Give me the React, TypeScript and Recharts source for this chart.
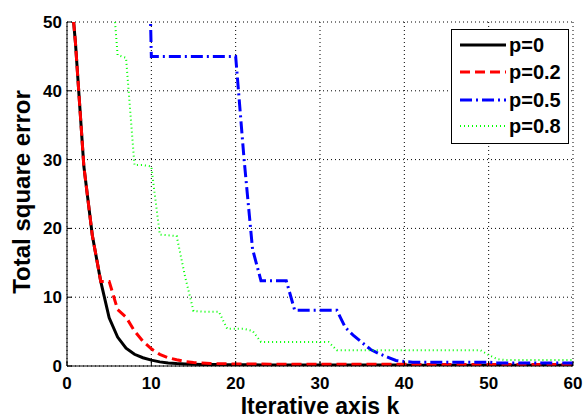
import { LineChart, Line, XAxis, YAxis, CartesianGrid } from "recharts";

const iterations = [
  0, 1, 2, 3, 4, 5, 6, 7, 8, 9, 10, 11, 12, 13, 14, 15, 16, 17, 18, 19, 20,
  21, 22, 23, 24, 25, 26, 27, 28, 29, 30, 31, 32, 33, 34, 35, 36, 37, 38, 39, 40,
  41, 42, 43, 44, 45, 46, 47, 48, 49, 50, 51, 52, 53, 54, 55, 56, 57, 58, 59, 60,
];

// p = 0
const errP0 = [
  61, 47, 29, 19, 12.3, 7, 4.2, 2.6, 1.7, 1.2, 0.85, 0.6, 0.45, 0.36, 0.3, 0.26,
  0.23, 0.21, 0.2, 0.19, 0.18, 0.17, 0.17, 0.16, 0.16, 0.15, 0.15, 0.15, 0.14,
  0.14, 0.14, 0.13, 0.13, 0.13, 0.13, 0.13, 0.13, 0.13, 0.13, 0.13, 0.13, 0.12,
  0.12, 0.12, 0.12, 0.12, 0.12, 0.12, 0.12, 0.12, 0.12, 0.11, 0.11, 0.11, 0.11,
  0.11, 0.11, 0.11, 0.11, 0.11, 0.11,
];

// p = 0.2
const errP02 = [
  61, 47, 29, 19, 12.3, 12.3, 8.2, 7.1, 5.1, 3.6, 2.5, 1.7, 1.2, 0.9, 0.65, 0.5,
  0.42, 0.36, 0.33, 0.31, 0.3, 0.29, 0.28, 0.28, 0.27, 0.27, 0.26, 0.26, 0.25,
  0.25, 0.25, 0.24, 0.24, 0.24, 0.24, 0.24, 0.24, 0.24, 0.24, 0.24, 0.24, 0.23,
  0.23, 0.23, 0.23, 0.23, 0.23, 0.23, 0.23, 0.23, 0.23, 0.22, 0.22, 0.22, 0.22,
  0.22, 0.22, 0.22, 0.22, 0.22, 0.22,
];

// p = 0.5
const errP05 = [
  null, null, null, null, null, null, null, null, null, 100, 45, 45, 45, 45, 45,
  45, 45, 45, 45, 45, 45, 30, 17, 12.4, 12.4, 12.4, 12.4, 8.1, 8.1, 8.1, 8.1, 8.1,
  8.1, 5.6, 4.4, 3.4, 2.4, 1.8, 1.3, 0.8, 0.65, 0.55, 0.55, 0.55, 0.55, 0.55,
  0.55, 0.55, 0.55, 0.55, 0.55, 0.45, 0.45, 0.45, 0.45, 0.45, 0.45, 0.45, 0.45,
  0.45, 0.45,
];

// p = 0.8
const errP08 = [
  null, null, null, null, null, 61, 45.2, 44.8, 29.2, 29.2, 29, 19.1, 19, 18.9,
  13, 8, 7.9, 7.9, 7.9, 5.4, 5.4, 5.4, 5.1, 3.5, 3.5, 3.5, 3.5, 3.5, 3.5, 3.5,
  3.5, 3.5, 2.3, 2.3, 2.3, 2.3, 2.3, 2.3, 2.3, 2.3, 2.3, 2.3, 2.3, 2.3, 2.3, 2.3,
  2.3, 2.3, 2.3, 2.3, 1.6, 1.0, 0.87, 0.87, 0.87, 0.87, 0.87, 0.87, 0.87, 0.87,
  0.87,
];

const xTicks = [0, 10, 20, 30, 40, 50, 60];
const yTicks = [0, 10, 20, 30, 40, 50];

const series = [
  { key: "p0", label: "p=0", color: "#000000", width: 3, dash: undefined },
  { key: "p02", label: "p=0.2", color: "#ff0000", width: 3, dash: "10 5" },
  { key: "p05", label: "p=0.5", color: "#0000ff", width: 3, dash: "12 4 2 4" },
  { key: "p08", label: "p=0.8", color: "#00ff00", width: 2, dash: "1 3" },
];

const data = iterations.map((k, i) => ({
  k,
  p0: errP0[i],
  p02: errP02[i],
  p05: errP05[i],
  p08: errP08[i],
}));

const font = '"Liberation Sans", Arial, Helvetica, sans-serif';
const tickStyle = { fill: "#000", fontSize: 17, fontWeight: "bold", fontFamily: font };

function YTitle(props: any) {
  const vb = props.viewBox;
  const x = vb.x + 30;
  const y = vb.y + vb.height / 2 - 2;
  return (
    <text
      x={x}
      y={y}
      transform={`rotate(-90 ${x} ${y})`}
      textAnchor="middle"
      fill="#000"
      fontSize={24}
      fontWeight="bold"
      fontFamily={font}
    >
      Total square error
    </text>
  );
}

function LegendBox() {
  const rows = [15, 42, 70, 96];
  return (
    <div
      style={{
        position: "absolute",
        left: 451,
        top: 29,
        width: 116,
        height: 113,
        border: "1px solid #000",
        background: "#fff",
      }}
    >
      <svg width={116} height={113}>
        {series.map((s, i) => (
          <g key={s.key}>
            <line
              x1={8}
              x2={54}
              y1={rows[i]}
              y2={rows[i]}
              stroke={s.color}
              strokeWidth={s.width}
              strokeDasharray={s.dash}
            />
            <text
              x={57}
              y={rows[i]}
              dominantBaseline="central"
              fontSize={20}
              fontWeight="bold"
              fontFamily={font}
              fill="#000"
            >
              {s.label}
            </text>
          </g>
        ))}
      </svg>
    </div>
  );
}

export default function App() {
  return (
    <div style={{ position: "absolute", left: 0, top: 0, width: 585, height: 419, background: "#fff" }}>
      <LineChart
        width={585}
        height={419}
        data={data}
        margin={{ top: 22, right: 12, bottom: 0, left: 0 }}
        style={{ fontFamily: font }}
      >
        <CartesianGrid stroke="#000" strokeDasharray="1 3" />
        <XAxis
          dataKey="k"
          type="number"
          domain={[0, 60]}
          ticks={xTicks}
          interval={0}
          height={53}
          tickSize={-5}
          tickMargin={16}
          tick={tickStyle}
          axisLine={{ stroke: "#000" }}
          tickLine={{ stroke: "#000" }}
          allowDataOverflow
          label={{
            value: "Iterative axis k",
            position: "insideBottom",
            offset: 5,
            fill: "#000",
            fontSize: 23,
            fontWeight: "bold",
            fontFamily: font,
          }}
        />
        <XAxis
          xAxisId="top"
          orientation="top"
          type="number"
          domain={[0, 60]}
          ticks={xTicks}
          height={0}
          tick={false}
          tickSize={-5}
          axisLine={{ stroke: "#000" }}
          tickLine={{ stroke: "#000" }}
          allowDataOverflow
        />
        <YAxis
          type="number"
          domain={[0, 50]}
          ticks={yTicks}
          interval={0}
          width={67}
          tickSize={-5}
          tickMargin={10}
          tick={tickStyle}
          axisLine={{ stroke: "#000" }}
          tickLine={{ stroke: "#000" }}
          allowDataOverflow
          label={YTitle}
        />
        <YAxis
          yAxisId="right"
          orientation="right"
          type="number"
          domain={[0, 50]}
          ticks={yTicks}
          width={0}
          tick={false}
          tickSize={-5}
          axisLine={{ stroke: "#000" }}
          tickLine={{ stroke: "#000" }}
          allowDataOverflow
        />
        {series.map((s) => (
          <Line
            key={s.key}
            dataKey={s.key}
            type="linear"
            stroke={s.color}
            strokeWidth={s.width}
            strokeDasharray={s.dash}
            dot={false}
            activeDot={false}
            isAnimationActive={false}
          />
        ))}
      </LineChart>
      <LegendBox />
    </div>
  );
}
